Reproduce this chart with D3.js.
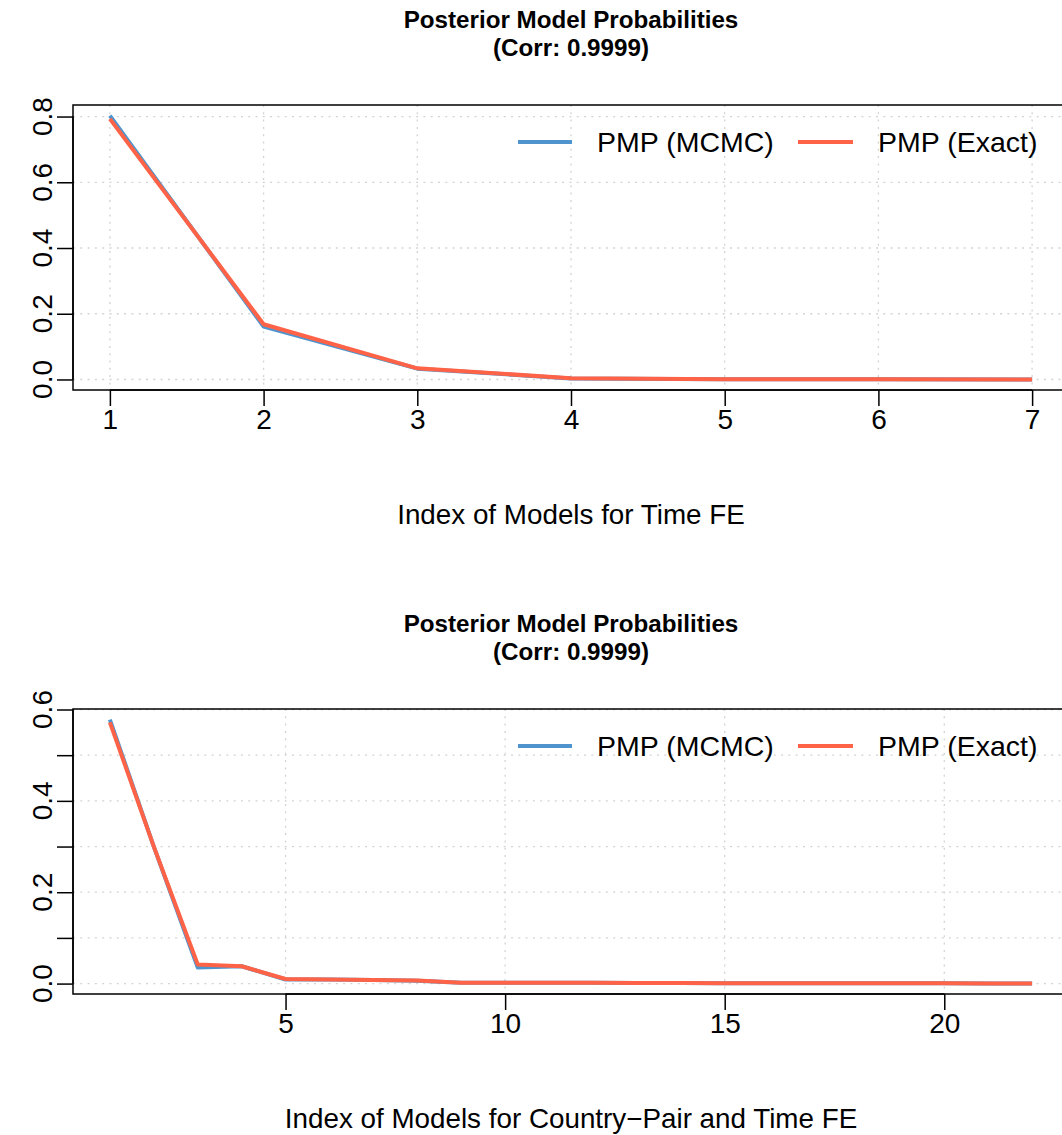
<!DOCTYPE html>
<html>
<head>
<meta charset="utf-8">
<script src="https://cdn.jsdelivr.net/npm/d3@7"></script>
<style>
  body { margin: 0; background: #fff; }
  text { font-family: "Liberation Sans", Arial, Helvetica, sans-serif; }
</style>
</head>
<body>
<div id="chart"></div>
<script>
// panel 1: time FE
const idxTime = [1, 2, 3, 4, 5, 6, 7];
const mcmcTime = [0.803, 0.161, 0.033, 0.003, 0.0008, 0.0004, 0.0001];
const exactTime = [0.793, 0.168, 0.034, 0.004, 0.0008, 0.0004, 0.0001];
const xTicksTime = [1, 2, 3, 4, 5, 6, 7];
const yTicksTime = [0, 0.2, 0.4, 0.6, 0.8];

// panel 2: country-pair and time FE
const idxPair = d3.range(1, 23);
const mcmcPair = [0.578, 0.300, 0.035, 0.038, 0.009, 0.009, 0.008, 0.006, 0.002, 0.002, 0.0018,
                  0.0016, 0.0014, 0.0012, 0.001, 0.001, 0.0008, 0.0007, 0.0006, 0.0005, 0.0004, 0.0003];
const exactPair = [0.572, 0.300, 0.042, 0.038, 0.010, 0.009, 0.008, 0.007, 0.002, 0.002, 0.0018,
                   0.0016, 0.0014, 0.0012, 0.001, 0.001, 0.0008, 0.0007, 0.0006, 0.0005, 0.0004, 0.0003];
const xTicksPair = [5, 10, 15, 20];
const yTicksPair = [0, 0.1, 0.2, 0.3, 0.4, 0.5, 0.6];
const yLabelsPair = [0, 0.2, 0.4, 0.6];

const titleLines = ["Posterior Model Probabilities", "(Corr: 0.9999)"];
const seriesNames = ["PMP (MCMC)", "PMP (Exact)"];
const colors = ["#4F94CD", "#FF6347"];

const W = 1062, H = 1135;
const left = 73, plotW = 996, plotH = 285;

const svg = d3.select("#chart")
              .append("svg")
              .attr("width", W)
              .attr("height", H);

// R style axis range: data range padded by 4% on each side
function rRange(vals) {
  const [lo, hi] = d3.extent(vals);
  const pad = (hi - lo) * 0.04;
  return [lo - pad, hi + pad];
}

function drawPanel(top, xs, mcmc, exact, xTicks, yTicks, yLabels, xlab) {
  const x = d3.scaleLinear().domain(rRange(xs)).range([left, left + plotW]);
  const y = d3.scaleLinear().domain(rRange(mcmc)).range([top + plotH, top]);
  const g = svg.append("g");

  // title
  g.selectAll(".title")
   .data(titleLines)
   .enter()
   .append("text")
   .attr("x", left + plotW / 2)
   .attr("y", (d, i) => top - 77 + i * 27.5)
   .attr("text-anchor", "middle")
   .style("font-weight", "bold")
   .style("font-size", "24.2px")
   .text(d => d);

  // grid
  g.selectAll(".vgrid")
   .data(xTicks)
   .enter()
   .append("line")
   .attr("x1", d => x(d)).attr("x2", d => x(d))
   .attr("y1", top).attr("y2", top + plotH)
   .attr("stroke", "#d3d3d3")
   .attr("stroke-width", 1.3)
   .attr("stroke-dasharray", "2,5.3");

  g.selectAll(".hgrid")
   .data(yTicks)
   .enter()
   .append("line")
   .attr("x1", left).attr("x2", left + plotW)
   .attr("y1", d => y(d)).attr("y2", d => y(d))
   .attr("stroke", "#d3d3d3")
   .attr("stroke-width", 1.3)
   .attr("stroke-dasharray", "2,5.3");

  // series lines, exact drawn over mcmc
  const line = d3.line().x((d, i) => x(xs[i])).y(d => y(d));
  [mcmc, exact].forEach((s, k) => {
    g.append("path")
     .attr("d", line(s))
     .attr("fill", "none")
     .attr("stroke", colors[k])
     .attr("stroke-width", 4)
     .attr("stroke-linejoin", "round");
  });

  // box
  g.append("rect")
   .attr("x", left).attr("y", top)
   .attr("width", plotW).attr("height", plotH)
   .attr("fill", "none")
   .attr("stroke", "#000")
   .attr("stroke-width", 1.5);

  // x axis
  g.append("g")
   .attr("transform", "translate(0," + (top + plotH) + ")")
   .call(d3.axisBottom(x).tickValues(xTicks).tickSize(16).tickSizeOuter(0).tickFormat(d3.format("d")))
   .call(a => a.select(".domain").attr("d", `M${x(xTicks[0])},0H${x(xTicks[xTicks.length - 1])}`).attr("stroke-width", 1.5))
   .call(a => a.selectAll(".tick line").attr("stroke-width", 1.5))
   .call(a => a.selectAll(".tick text")
               .attr("y", 39).attr("dy", 0)
               .style("font-size", "28px")
               .style("font-family", "'Liberation Sans', Arial, sans-serif")
               .attr("fill", "#000"));

  // y axis
  g.append("g")
   .attr("transform", "translate(" + left + ",0)")
   .call(d3.axisLeft(y).tickValues(yTicks).tickSize(16).tickSizeOuter(0).tickFormat(""))
   .call(a => a.select(".domain").attr("d", `M0,${y(yTicks[0])}V${y(yTicks[yTicks.length - 1])}`).attr("stroke-width", 1.5))
   .call(a => a.selectAll(".tick line").attr("stroke-width", 1.5));

  g.selectAll(".ylab")
   .data(yLabels)
   .enter()
   .append("text")
   .attr("transform", d => "translate(52," + y(d) + ") rotate(-90)")
   .attr("text-anchor", "middle")
   .style("font-size", "28px")
   .text(d => d3.format(".1f")(d));

  // x axis title
  g.append("text")
   .attr("x", left + plotW / 2)
   .attr("y", top + plotH + 134)
   .attr("text-anchor", "middle")
   .style("font-size", "27.8px")
   .text(xlab);

  // legend
  const ly = top + 37;
  const legendPos = [[518, 572, 597], [798, 853, 878]];
  seriesNames.forEach((name, k) => {
    g.append("line")
     .attr("x1", legendPos[k][0]).attr("x2", legendPos[k][1])
     .attr("y1", ly).attr("y2", ly)
     .attr("stroke", colors[k])
     .attr("stroke-width", 4);
    g.append("text")
     .attr("x", legendPos[k][2])
     .attr("y", ly + 10)
     .style("font-size", "28.5px")
     .text(name);
  });
}

drawPanel(105, idxTime, mcmcTime, exactTime, xTicksTime, yTicksTime, yTicksTime,
          "Index of Models for Time FE");
drawPanel(709, idxPair, mcmcPair, exactPair, xTicksPair, yTicksPair, yLabelsPair,
          "Index of Models for Country\u2212Pair and Time FE");
</script>
</body>
</html>
